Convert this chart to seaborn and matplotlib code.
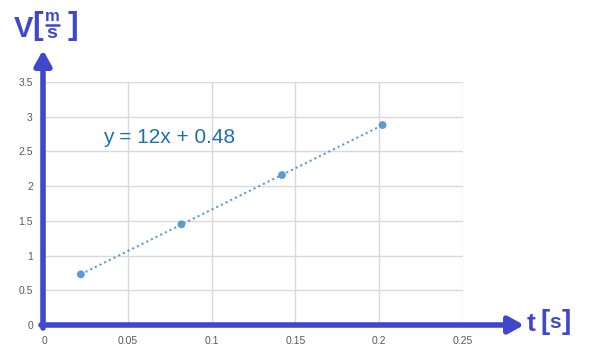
import matplotlib
matplotlib.use("Agg")
import matplotlib.pyplot as plt
import seaborn as sns
import numpy as np
import pandas as pd

# data
t_values = [0.022, 0.082, 0.142, 0.202]
v_values = [0.73, 1.45, 2.16, 2.88]
x_ticks = [0, 0.05, 0.1, 0.15, 0.2, 0.25]
x_tick_labels = ["0", "0.05", "0.1", "0.15", "0.2", "0.25"]
y_ticks = [0, 0.5, 1, 1.5, 2, 2.5, 3, 3.5]
y_tick_labels = ["0", "0.5", "1", "1.5", "2", "2.5", "3", "3.5"]
equation = "y = 12x + 0.48"

sns.set_style("white")
plt.rcParams["font.family"] = ["Liberation Sans", "DejaVu Sans"]

W, H = 593, 352
fig = plt.figure(figsize=(W / 100, H / 100), dpi=100)
ax = fig.add_axes([44 / W, 1 - 325 / H, (463 - 44) / W, (325 - 82) / H])

df = pd.DataFrame({"t": t_values, "V": v_values})
point_color = "#5b9bd5"
sns.regplot(data=df, x="t", y="V", ax=ax, ci=None, truncate=True,
            scatter_kws=dict(s=32, color=point_color, edgecolor="none", alpha=1, zorder=4),
            line_kws=dict(color=point_color, ls=(0, (1, 1.5)), lw=1.5, zorder=3))

ax.set_xlim(0, 0.25)
ax.set_ylim(0, 3.5)
ax.set_xticks(x_ticks)
ax.set_xticklabels(x_tick_labels)
ax.set_yticks(y_ticks)
ax.set_yticklabels(y_tick_labels)
ax.grid(True, color="#d9d9d9", lw=1)
ax.set_axisbelow(True)
for s in ax.spines.values():
    s.set_visible(False)
ax.tick_params(axis="both", length=0, labelsize=7.5, colors="#595959")
ax.tick_params(axis="x", pad=8)
ax.tick_params(axis="y", pad=8)
ax.set_xlabel("")
ax.set_ylabel("")

ax.text(0.0355, 2.7, equation, fontsize=15, color="#1f6fb4", ha="left", va="center")

# arrows (figure pixel coordinates converted to fractions)
arrow_color = "#3f48cc"
def fp(x, y):
    return (x / W, 1 - y / H)

ax.annotate("", xy=fp(43, 50), xytext=fp(43, 328), xycoords="figure fraction",
            textcoords="figure fraction",
            arrowprops=dict(arrowstyle="-|>,head_length=0.9,head_width=0.5",
                            color=arrow_color, lw=4, shrinkA=0, shrinkB=0),
            annotation_clip=False)
ax.annotate("", xy=fp(524, 325), xytext=fp(41, 325), xycoords="figure fraction",
            textcoords="figure fraction",
            arrowprops=dict(arrowstyle="-|>,head_length=0.9,head_width=0.5",
                            color=arrow_color, lw=4, shrinkA=0, shrinkB=0),
            annotation_clip=False)

# V [m/s] label
lab_color = "#3f48cc"
bold = dict(fontweight="bold", color=lab_color, va="baseline")
fig.text(*fp(14, 37), "V", fontsize=21, ha="left", **bold)
fig.text(*fp(32, 34), "[", fontsize=23, ha="left", **bold)
fig.text(*fp(52, 21), "m", fontsize=12, ha="center", **bold)
fig.add_artist(plt.Line2D([45.5 / W, 58.5 / W], [1 - 24.5 / H, 1 - 24.5 / H], color=lab_color, lw=1.8))
fig.text(*fp(52, 38), "s", fontsize=14, ha="center", **bold)
fig.text(*fp(78, 34), "]", fontsize=23, ha="right", **bold)

# t [s] label
fig.text(*fp(527, 331), "t", fontsize=19, ha="left", **bold)
fig.text(*fp(540, 329), "[", fontsize=20, ha="left", **bold)
fig.text(*fp(555.5, 328), "s", fontsize=15, ha="center", **bold)
fig.text(*fp(571, 329), "]", fontsize=20, ha="right", **bold)

fig.savefig("out.png", dpi=100, facecolor="white")
